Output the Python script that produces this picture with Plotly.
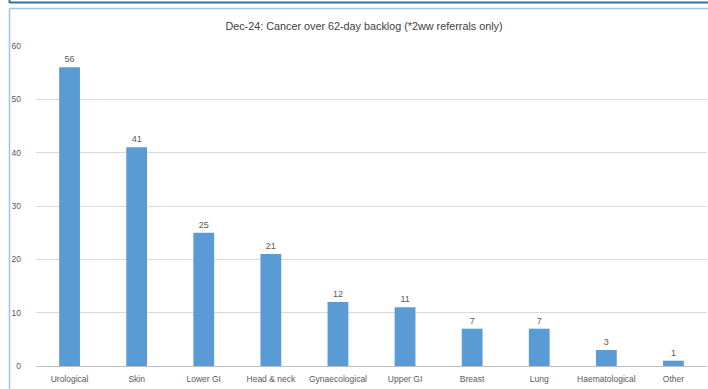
import plotly.graph_objects as go

categories = ["Urological", "Skin", "Lower GI", "Head & neck", "Gynaecological",
              "Upper GI", "Breast", "Lung", "Haematological", "Other"]
values = [56, 41, 25, 21, 12, 11, 7, 7, 3, 1]
y_ticks = [0, 10, 20, 30, 40, 50, 60]
title_text = "Dec-24: Cancer over 62-day backlog (*2ww referrals only)"

W, H = 708, 389
L, R, T, B = 36, 1, 46, 23
PW, PH = W - L - R, H - T - B

def px(x):
    return (x - L) / PW

def py(y):
    return (H - B - y) / PH

FONT = "Liberation Sans, Arial, sans-serif"

fig = go.Figure(go.Bar(
    x=categories, y=values, width=0.31,
    marker=dict(color="#5B9BD5", line=dict(width=0)),
    text=values, textposition="outside", cliponaxis=False,
    textfont=dict(family=FONT, size=9, color="#595959"),
))

shapes = [
    # top box bottom border (dark blue)
    dict(type="line", xref="paper", yref="paper", x0=px(9.5), x1=px(710), y0=py(2.5), y1=py(2.5),
         line=dict(color="#2E75B6", width=2)),
    dict(type="line", xref="paper", yref="paper", x0=px(9.5), x1=px(9.5), y0=py(-2), y1=py(3),
         line=dict(color="#2E75B6", width=2)),
    # chart box border (light blue)
    dict(type="line", xref="paper", yref="paper", x0=px(9.5), x1=px(710), y0=py(8.5), y1=py(8.5),
         line=dict(color="#9DC3E6", width=1.5)),
    dict(type="line", xref="paper", yref="paper", x0=px(9.5), x1=px(9.5), y0=py(8.5), y1=py(392),
         line=dict(color="#9DC3E6", width=1.5)),
]

fig.update_layout(
    width=W, height=H,
    margin=dict(l=L, r=R, t=T, b=B, pad=0),
    paper_bgcolor="white", plot_bgcolor="white",
    showlegend=False,
    bargap=0.69,
    shapes=shapes,
    title=dict(text=title_text, x=364 / W, xref="container", xanchor="center",
               y=1 - 26 / H, yanchor="middle",
               font=dict(family=FONT, size=10.8, color="#404040")),
    xaxis=dict(showgrid=False, showline=False, ticks="", ticklabelstandoff=6,
               tickfont=dict(family=FONT, size=8.5, color="#595959")),
    yaxis=dict(range=[0, 60], tickvals=y_ticks, showgrid=True, gridcolor="#D9D9D9",
               gridwidth=1, zeroline=True, zerolinecolor="#BFBFBF", zerolinewidth=1,
               showline=False, ticks="", ticklabelstandoff=14,
               tickfont=dict(family=FONT, size=8.5, color="#595959")),
)

fig.write_html("out.html")
